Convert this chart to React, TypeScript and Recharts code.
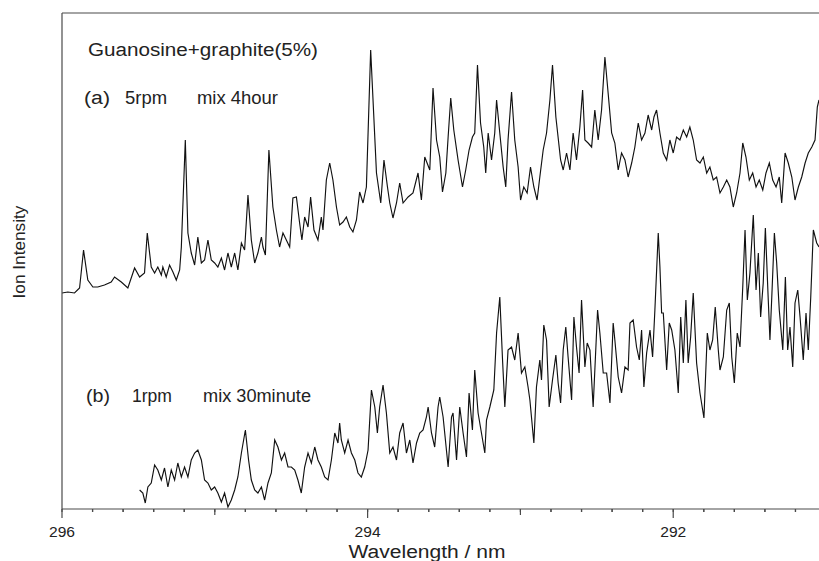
import React from 'react';
import { LineChart, Line, XAxis, YAxis, ReferenceLine, Customized } from 'recharts';

// ---- data (wavelength in nm, intensity in arbitrary units) ----
const wavelengthA = [
  296.000, 295.962, 295.918, 295.885, 295.859, 295.831, 295.798, 295.766, 295.722, 295.678, 295.656, 295.612, 295.569, 295.536, 295.525, 295.492, 295.460, 295.442, 295.416, 295.394,
  295.373, 295.350, 295.340, 295.318, 295.296, 295.274, 295.252, 295.230, 295.219, 295.193, 295.176, 295.154, 295.132, 295.111, 295.088, 295.067, 295.045, 295.023, 295.001, 294.980,
  294.957, 294.936, 294.914, 294.892, 294.870, 294.849, 294.826, 294.805, 294.783, 294.761, 294.739, 294.718, 294.695, 294.685, 294.669, 294.646, 294.620, 294.597, 294.576, 294.554,
  294.532, 294.510, 294.489, 294.466, 294.445, 294.430, 294.412, 294.390, 294.373, 294.351, 294.325, 294.303, 294.292, 294.270, 294.248, 294.227, 294.204, 294.183, 294.161, 294.139,
  294.117, 294.096, 294.073, 294.052, 294.030, 294.008, 293.980, 293.942, 293.914, 293.893, 293.870, 293.855, 293.834, 293.811, 293.790, 293.768, 293.735, 293.703, 293.670, 293.648,
  293.626, 293.593, 293.572, 293.549, 293.528, 293.510, 293.488, 293.473, 293.456, 293.436, 293.408, 293.379, 293.358, 293.336, 293.314, 293.299, 293.281, 293.261, 293.240, 293.227,
  293.211, 293.189, 293.168, 293.156, 293.135, 293.113, 293.096, 293.081, 293.058, 293.037, 293.015, 292.999, 292.978, 292.956, 292.934, 292.912, 292.891, 292.873, 292.851, 292.829,
  292.807, 292.790, 292.768, 292.737, 292.720, 292.698, 292.676, 292.655, 292.633, 292.611, 292.593, 292.578, 292.557, 292.534, 292.513, 292.491, 292.469, 292.447, 292.426, 292.403,
  292.382, 292.360, 292.338, 292.316, 292.295, 292.272, 292.251, 292.229, 292.207, 292.185, 292.164, 292.141, 292.126, 292.109, 292.087, 292.065, 292.043, 292.022, 292.000, 291.978,
  291.956, 291.934, 291.912, 291.891, 291.869, 291.847, 291.825, 291.803, 291.781, 291.760, 291.738, 291.716, 291.694, 291.672, 291.650, 291.629, 291.607, 291.585, 291.563, 291.545,
  291.524, 291.502, 291.480, 291.458, 291.437, 291.414, 291.393, 291.371, 291.349, 291.327, 291.306, 291.290, 291.268, 291.247, 291.224, 291.203, 291.181, 291.159, 291.137, 291.116,
  291.093, 291.072, 291.057, 291.046,
];
const intensityA = [
  216, 217, 216, 221, 259, 229, 222, 222, 224, 227, 232, 227, 221, 236, 241, 232, 236, 276, 242, 236,
  242, 234, 242, 232, 244, 237, 229, 239, 262, 369, 276, 256, 244, 272, 246, 249, 269, 249, 246, 242,
  251, 239, 256, 242, 256, 239, 266, 259, 314, 269, 246, 256, 272, 262, 254, 359, 302, 279, 262, 276,
  269, 262, 311, 312, 286, 269, 292, 282, 312, 279, 269, 292, 279, 329, 346, 329, 302, 284, 287, 292,
  282, 277, 289, 317, 306, 322, 459, 336, 306, 349, 322, 306, 291, 306, 326, 306, 312, 316, 336, 309,
  352, 339, 421, 369, 352, 317, 336, 372, 411, 379, 349, 322, 339, 359, 372, 376, 444, 386, 362, 336,
  376, 349, 376, 409, 376, 342, 322, 369, 417, 369, 342, 309, 322, 316, 342, 322, 309, 332, 359, 376,
  409, 444, 392, 349, 339, 356, 339, 376, 349, 382, 419, 369, 366, 362, 399, 369, 399, 452, 416, 376,
  366, 339, 356, 349, 332, 346, 362, 386, 369, 376, 394, 379, 392, 399, 376, 356, 349, 369, 356, 372,
  369, 379, 372, 382, 369, 349, 346, 352, 336, 342, 329, 332, 316, 322, 329, 322, 302, 316, 336, 366,
  352, 329, 336, 322, 329, 319, 336, 346, 329, 322, 332, 306, 356, 346, 332, 309, 322, 332, 346, 356,
  362, 369, 402, 409,
];

const wavelengthB = [
  295.492, 295.471, 295.455, 295.438, 295.416, 295.394, 295.373, 295.350, 295.329, 295.307, 295.285, 295.263, 295.242, 295.219, 295.198, 295.176, 295.154, 295.132, 295.111, 295.088,
  295.067, 295.045, 295.023, 295.001, 294.980, 294.957, 294.936, 294.914, 294.892, 294.870, 294.849, 294.826, 294.800, 294.779, 294.761, 294.739, 294.718, 294.695, 294.674, 294.652,
  294.630, 294.608, 294.587, 294.564, 294.543, 294.521, 294.499, 294.477, 294.456, 294.434, 294.412, 294.390, 294.368, 294.346, 294.325, 294.303, 294.281, 294.259, 294.237, 294.215,
  294.194, 294.183, 294.172, 294.150, 294.128, 294.106, 294.084, 294.063, 294.041, 294.019, 293.997, 293.975, 293.953, 293.936, 293.921, 293.899, 293.877, 293.855, 293.834, 293.811,
  293.790, 293.768, 293.746, 293.724, 293.703, 293.680, 293.659, 293.637, 293.615, 293.604, 293.582, 293.561, 293.539, 293.528, 293.506, 293.473, 293.451, 293.441, 293.418, 293.397,
  293.375, 293.353, 293.336, 293.314, 293.299, 293.277, 293.255, 293.233, 293.222, 293.200, 293.174, 293.156, 293.135, 293.117, 293.102, 293.081, 293.058, 293.037, 293.015, 292.993,
  292.971, 292.950, 292.938, 292.912, 292.895, 292.873, 292.862, 292.847, 292.829, 292.812, 292.790, 292.768, 292.753, 292.737, 292.720, 292.703, 292.688, 292.665, 292.650, 292.633,
  292.616, 292.600, 292.578, 292.563, 292.545, 292.524, 292.495, 292.480, 292.458, 292.436, 292.414, 292.393, 292.382, 292.360, 292.338, 292.316, 292.295, 292.283, 292.262, 292.240,
  292.222, 292.207, 292.192, 292.174, 292.152, 292.135, 292.120, 292.098, 292.087, 292.076, 292.065, 292.043, 292.026, 292.010, 291.989, 291.967, 291.951, 291.934, 291.917, 291.902,
  291.886, 291.869, 291.847, 291.825, 291.799, 291.777, 291.760, 291.742, 291.725, 291.705, 291.694, 291.672, 291.650, 291.633, 291.617, 291.600, 291.581, 291.563, 291.545, 291.530,
  291.515, 291.498, 291.476, 291.458, 291.443, 291.428, 291.411, 291.397, 291.378, 291.367, 291.355, 291.338, 291.323, 291.306, 291.283, 291.266, 291.251, 291.236, 291.218, 291.203,
  291.185, 291.170, 291.149, 291.131, 291.116, 291.100, 291.083, 291.061, 291.046,
];
const intensityB = [
  19, 16, 6, 22, 26, 44, 39, 29, 41, 22, 39, 29, 46, 32, 42, 32, 49, 56, 59, 49,
  29, 26, 19, 22, 16, 7, 16, 2, 9, 19, 32, 56, 79, 49, 29, 19, 16, 22, 9, 26,
  36, 69, 62, 49, 56, 42, 42, 39, 29, 16, 42, 56, 46, 62, 49, 42, 32, 29, 49, 76,
  66, 86, 69, 56, 69, 56, 49, 36, 32, 42, 59, 119, 102, 76, 102, 124, 96, 56, 62, 49,
  76, 86, 56, 69, 46, 66, 76, 79, 92, 102, 76, 62, 102, 112, 92, 42, 92, 96, 49, 102,
  76, 52, 116, 79, 139, 96, 76, 56, 89, 102, 119, 176, 212, 149, 102, 159, 162, 149, 176, 136,
  142, 122, 109, 66, 122, 149, 129, 184, 169, 102, 129, 154, 126, 106, 159, 182, 152, 109, 192, 162,
  136, 209, 142, 166, 159, 102, 199, 176, 136, 136, 106, 186, 169, 132, 116, 142, 139, 186, 189, 162,
  149, 179, 122, 156, 179, 152, 199, 276, 242, 196, 196, 139, 186, 179, 159, 116, 192, 146, 209, 146,
  172, 216, 146, 116, 91, 176, 159, 169, 202, 159, 139, 152, 199, 206, 152, 126, 176, 162, 222, 279,
  209, 236, 294, 219, 256, 192, 226, 281, 209, 169, 212, 276, 246, 199, 159, 232, 159, 182, 142, 206,
  219, 192, 149, 196, 159, 212, 279, 266, 262,
];

const xTicks = [
  296, 295.8, 295.6, 295.4, 295.2, 295, 294.8, 294.6, 294.4, 294.2, 294, 293.8, 293.6, 293.4, 293.2,
  293, 292.8, 292.6, 292.4, 292.2, 292, 291.8, 291.6, 291.4, 291.2,
];
const xTickLabels = [
  { value: 296, label: '296' },
  { value: 294, label: '294' },
  { value: 292, label: '292' },
];

const X_DOMAIN: [number, number] = [291.046, 296];
const Y_DOMAIN: [number, number] = [0, 496];

const dataA = wavelengthA.map((w, i) => ({ w, i: intensityA[i] }));
const dataB = wavelengthB.map((w, i) => ({ w, i: intensityB[i] }));

const FONT = "Arial, 'Liberation Sans', Helvetica, sans-serif";
const AXIS = '#4a4a4a';
const INK = '#222';
const MINOR = 3;

function Tick(props: any) {
  const x = Number(props.x);
  const y0 = Number(props.y) - MINOR; // axis line position
  const v = Number(props.payload?.value);
  const isInt = Math.abs(v - Math.round(v)) < 1e-6;
  const lab = xTickLabels.find((t) => Math.abs(t.value - v) < 1e-6);
  const len = lab ? 9 : isInt ? 6 : MINOR;
  return (
    <g>
      <path d={`M${x},${y0}L${x},${y0 + len}`} stroke={AXIS} strokeWidth={1.2} fill="none" />
      {lab && (
        <text
          x={x}
          y={y0 + 28}
          textAnchor="middle"
          fontSize={15}
          fontFamily={FONT}
          fill={INK}
          stroke="none"
          textLength={26}
          lengthAdjust="spacingAndGlyphs"
        >
          {lab.label}
        </text>
      )}
    </g>
  );
}

function T(p: { x: number; y: number; w: number; s: number; children: string; anchor?: string; rot?: boolean }) {
  return (
    <text
      x={p.x}
      y={p.y}
      fontSize={p.s}
      fontFamily={FONT}
      fill={INK}
      textAnchor={(p.anchor as any) || 'start'}
      textLength={p.w}
      lengthAdjust="spacingAndGlyphs"
      transform={p.rot ? `rotate(-90, ${p.x}, ${p.y})` : undefined}
    >
      {p.children}
    </text>
  );
}

function Annotations() {
  return (
    <g>
      <T x={88} y={56} w={230} s={18}>Guanosine+graphite(5%)</T>
      <T x={84} y={104} w={26} s={18}>(a)</T>
      <T x={125} y={104} w={42} s={18}>5rpm</T>
      <T x={197} y={104} w={81} s={18}>mix 4hour</T>
      <T x={86} y={402} w={24} s={18}>(b)</T>
      <T x={132} y={402} w={40} s={18}>1rpm</T>
      <T x={203} y={402} w={108} s={18}>mix 30minute</T>
      <T x={427} y={558} w={157} s={18} anchor="middle">Wavelength / nm</T>
      <T x={25} y={252} w={93} s={17} anchor="middle" rot>Ion Intensity</T>
    </g>
  );
}

export default function App() {
  return (
    <div style={{ position: 'absolute', left: 0, top: 0, width: 819, height: 561, background: '#fff' }}>
      <LineChart width={819} height={561} margin={{ top: 13, right: 0, bottom: 0, left: 0 }}>
        <XAxis
          dataKey="w"
          type="number"
          domain={X_DOMAIN}
          reversed
          allowDataOverflow
          ticks={xTicks}
          interval={0}
          tickSize={MINOR}
          tickMargin={0}
          tickLine={{ stroke: AXIS, strokeWidth: 1.2 }}
          tick={<Tick />}
          axisLine={{ stroke: AXIS, strokeWidth: 1.2 }}
          height={52}
        />
        <YAxis
          type="number"
          domain={Y_DOMAIN}
          allowDataOverflow
          tick={false}
          tickLine={false}
          width={62}
          axisLine={{ stroke: AXIS, strokeWidth: 1.2 }}
        />
        <ReferenceLine y={Y_DOMAIN[1]} stroke={AXIS} strokeWidth={1.2} />
        <Line
          data={dataA}
          dataKey="i"
          type="linear"
          stroke="#111"
          strokeWidth={1.15}
          dot={false}
          activeDot={false}
          isAnimationActive={false}
        />
        <Line
          data={dataB}
          dataKey="i"
          type="linear"
          stroke="#111"
          strokeWidth={1.15}
          dot={false}
          activeDot={false}
          isAnimationActive={false}
        />
        <Customized component={<Annotations />} />
      </LineChart>
    </div>
  );
}
